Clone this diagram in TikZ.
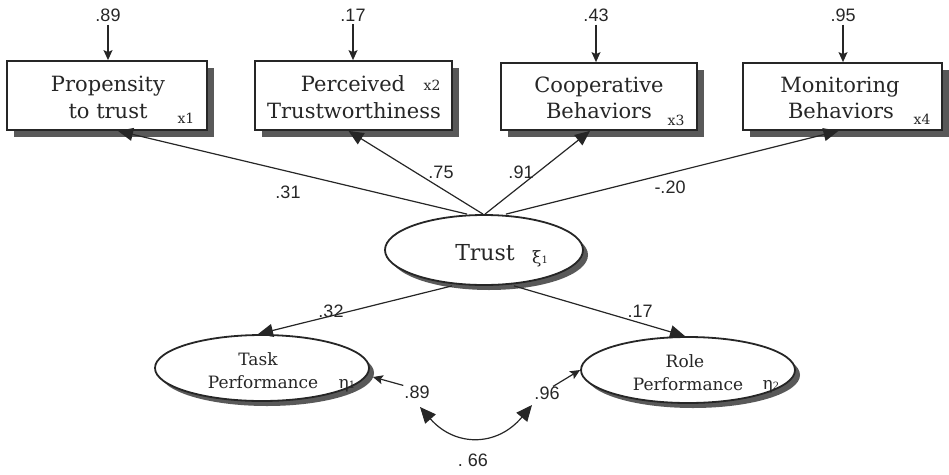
\documentclass[tikz,border=0pt]{standalone}
\usepackage{fontspec}
\setmainfont{DejaVu Serif}
\newfontfamily\numfont{Liberation Sans}
\usetikzlibrary{arrows.meta,shapes.geometric,calc}

\tikzset{
  dropshade/.style={preaction={fill=black!65, transform canvas={xshift=#1, yshift=-#1}}},
  varbox/.style={draw=black!85, line width=1.8pt, fill=white, inner sep=0pt, dropshade=6.5pt},
  latent/.style={ellipse, draw=black!85, line width=1.8pt, fill=white, inner sep=0pt, dropshade=5pt},
  load/.style={draw=black!85, line width=1.2pt, -{Triangle[length=15pt,width=13pt]}},
  twoway/.style={draw=black!85, line width=1.2pt,
    {Triangle[length=16pt,width=14pt]}-{Triangle[length=16pt,width=14pt]}},
  resid/.style={draw=black!85, line width=1.2pt, -{Stealth[length=10pt,width=9pt,inset=2pt]}},
  coef/.style={font=\numfont\fontsize{18}{20}\selectfont, text=black!85, inner sep=0pt},
  vtext/.style={font=\fontsize{21}{27}\selectfont, text=black!85, inner sep=0pt, anchor=base},
  ltext/.style={font=\fontsize{17}{20}\selectfont, text=black!85, inner sep=0pt, anchor=base},
  tag/.style={font=\fontsize{14}{16}\selectfont, text=black!85, inner sep=0pt, anchor=base},
  greek/.style={font=\fontsize{17}{20}\selectfont, text=black!85, inner sep=0pt, anchor=base},
}
\newcommand{\subidx}[1]{{\fontsize{10}{10}\selectfont #1}}

\begin{document}
\begin{tikzpicture}[x=1pt, y=-1pt]
\useasboundingbox (0,0) rectangle (949,474);

% observed indicators
\node[varbox, minimum width=200pt, minimum height=69pt] (b1) at (107,95.5) {};
\node[varbox, minimum width=197pt, minimum height=69pt] (b2) at (353.5,95.5) {};
\node[varbox, minimum width=196pt, minimum height=67pt] (b3) at (599,96.5) {};
\node[varbox, minimum width=199pt, minimum height=67pt] (b4) at (842.5,96.5) {};

\node[vtext] (b1a) at (108,91) {Propensity};
\node[vtext] (b1b) at (108,118) {to trust};
\node[tag]   (b1x) at (186,123) {x1};
\node[vtext] (b2a) at (353,91) {Perceived};
\node[vtext] (b2b) at (354,118) {Trustworthiness};
\node[tag]   (b2x) at (432,90) {x2};
\node[vtext] (b3a) at (599,92) {Cooperative};
\node[vtext] (b3b) at (599,118) {Behaviors};
\node[tag]   (b3x) at (676,125) {x3};
\node[vtext] (b4a) at (840,92) {Monitoring};
\node[vtext] (b4b) at (841,118) {Behaviors};
\node[tag]   (b4x) at (922,124) {x4};

% measurement errors
\node[coef] (e1) at (108,15) {.89};
\node[coef] (e2) at (353,15) {.17};
\node[coef] (e3) at (596,15) {.43};
\node[coef] (e4) at (843,15) {.95};
\draw[resid] ([yshift=-3pt]e1.south) -- (e1.south |- b1.north);
\draw[resid] ([yshift=-3pt]e2.south) -- (e2.south |- b2.north);
\draw[resid] ([yshift=-3pt]e3.south) -- (e3.south |- b3.north);
\draw[resid] ([yshift=-3pt]e4.south) -- (e4.south |- b4.north);

% latent variables
\node[latent, minimum width=198pt, minimum height=70pt] (trust) at (484,250) {};
\node[latent, minimum width=214pt, minimum height=66pt] (task) at (262,368) {};
\node[latent, minimum width=214pt, minimum height=66pt] (role) at (688,370) {};

\node[font=\fontsize{22}{24}\selectfont, text=black!85, inner sep=0pt, anchor=base] (trustl) at (485,260) {Trust};
\node[greek] (xi) at (540,263) {ξ\subidx{1}};
\node[ltext] (taska) at (258,365) {Task};
\node[ltext] (taskb) at (263,388) {Performance};
\node[greek] (eta1) at (347,388) {η\subidx{1}};
\node[ltext] (rolea) at (685,367) {Role};
\node[ltext] (roleb) at (688,390) {Performance};
\node[greek] (eta2) at (771,389) {η\subidx{2}};

% loadings
\draw[load] ([xshift=-17pt]trust.north) -- ([xshift=11pt]b1.south);
\draw[load] ([xshift=-1pt]trust.north) -- ([xshift=-5pt]b2.south);
\draw[load] ([xshift=1pt]trust.north) -- ([xshift=-9pt]b3.south);
\draw[load] ([xshift=22pt]trust.north) -- ([xshift=-4pt]b4.south);
\node[coef] (l1) at (288,192) {.31};
\node[coef] (l2) at (441,172) {.75};
\node[coef] (l3) at (521,172) {.91};
\node[coef] (l4) at (670,187) {-.20};

% structural paths
\draw[load] ([xshift=-32pt]trust.south) -- ([xshift=-4pt]task.north);
\draw[load] ([xshift=30pt]trust.south) -- ([xshift=-3pt]role.north);
\node[coef] (g1) at (331,311) {.32};
\node[coef] (g2) at (640,311) {.17};

% disturbances and their covariance
\node[coef] (d1) at (417,392) {.89};
\node[coef] (d2) at (547,393) {.96};
\draw[resid] ([xshift=-1pt]d1.north west) -- ([xshift=3pt,yshift=-9pt]task.east);
\draw[resid] ([xshift=6pt]d2.north) -- (role.west);
\coordinate (c1) at (420,407);
\coordinate (c2) at (532,405);
\draw[twoway] (c1) .. controls (455,447) and (497,447) .. (c2);
\node[coef] (cv) at (473,460) {.\ 66};
\end{tikzpicture}
\end{document}
